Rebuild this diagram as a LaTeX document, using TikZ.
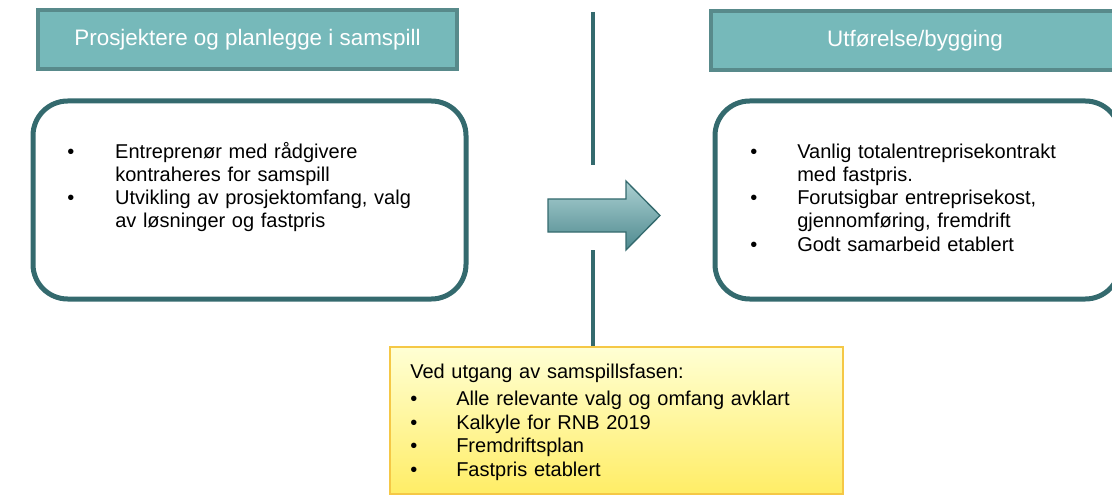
\documentclass[tikz,border=0pt]{standalone}
\usepackage{fontspec}
\setmainfont{Liberation Sans}
\usetikzlibrary{positioning,fit}

\definecolor{tealfill}{RGB}{118,185,186}
\definecolor{tealedge}{RGB}{88,138,139}
\definecolor{tealdark}{RGB}{52,106,110}
\definecolor{arrowtop}{RGB}{172,208,210}
\definecolor{arrowbottom}{RGB}{78,138,143}
\definecolor{notetop}{RGB}{255,255,212}
\definecolor{notebottom}{RGB}{255,237,102}
\definecolor{notegold}{RGB}{245,200,70}

\newcommand{\bitem}[2][36pt]{\noindent\hangindent=#1\hangafter=1\makebox[#1][l]{\textbullet}#2\par}

\begin{document}
\begin{tikzpicture}[x=0.75pt,y=-0.75pt,
  header/.style={draw=tealedge,line width=2.5pt,fill=tealfill,text=white,
    inner sep=0pt,minimum height=44.25pt,font=\fontsize{16.8}{20}\selectfont},
  card/.style={draw=tealdark,line width=3.75pt,rounded corners=26pt,inner sep=0pt},
  items/.style={anchor=north west,inner sep=0pt,align=left,text width=330pt,
    font=\fontsize{15}{17.3}\selectfont},
  note/.style={draw=notegold,line width=1.5pt,top color=notetop,
    bottom color=notebottom,inner sep=0pt},
  divider/.style={draw=tealdark,line width=3.5pt}]

  \useasboundingbox (0,0) rectangle (1112,495);
  \clip (0,0) rectangle (1112,495);

  % phase headers
  \node[header,minimum width=314.25pt] (plan) at (247.5,39.5) {Prosjektere og planlegge i samspill};
  \node[header,minimum width=306pt] (build) at (915,40.5) {Utførelse/bygging};

  % phase contents
  \node[card,fit={(33,101) (466,299)}] (plancard) {};
  \node[card,fit={(715,101) (1120,299)}] (buildcard) {};

  \node[items] (planitems) at (67,142) {%
    \bitem{Entreprenør med rådgivere\newline kontraheres for samspill}%
    \bitem{Utvikling av prosjektomfang, valg\newline av løsninger og fastpris}};
  \node[items] (builditems) at (750,144) {%
    \bitem[35.25pt]{Vanlig totalentreprisekontrakt\newline med fastpris.}%
    \bitem[35.25pt]{Forutsigbar entreprisekost,\newline gjennomføring, fremdrift}%
    \bitem[35.25pt]{Godt samarbeid etablert}};

  % milestone
  \node[note,fit={(390,347) (843,494)}] (exit) {};
  \node[items,font=\fontsize{15}{17.8}\selectfont] (exititems) at (410,363.5) {%
    Ved utgang av samspillsfasen:\par\vspace{2.6pt}%
    \bitem[34.5pt]{Alle relevante valg og omfang avklart}%
    \bitem[34.5pt]{Kalkyle for RNB 2019}%
    \bitem[34.5pt]{Fremdriftsplan}%
    \bitem[34.5pt]{Fastpris etablert}};

  % divider and transition
  \coordinate (linetop) at (593,12);
  \coordinate (lineup) at (593,165);
  \coordinate (linedown) at (593,250);
  \draw[divider] (linetop) -- (lineup);
  \draw[divider] (linedown) -- (exit.north -| linedown);

  \shade[top color=arrowtop,bottom color=arrowbottom,draw=tealdark,line width=1pt]
    (548,199) -- (626,199) -- (626,181) -- (660,215.5) -- (626,250)
    -- (626,232) -- (548,232) -- cycle;
\end{tikzpicture}
\end{document}
